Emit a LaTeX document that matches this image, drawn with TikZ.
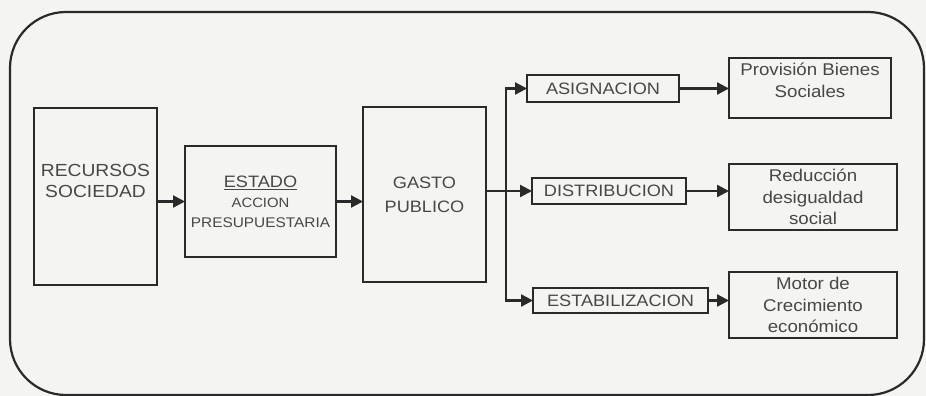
\documentclass[tikz,border=0pt]{standalone}
\usepackage{fontspec}
\setmainfont{Liberation Sans}[FakeStretch=1.1]
\usetikzlibrary{arrows.meta}
\definecolor{ink}{HTML}{2A2A2A}
\definecolor{txt}{HTML}{474747}
\definecolor{paper}{HTML}{F4F4F1}
\begin{document}
\begin{tikzpicture}[x=1pt,y=-1pt,
  box/.style={draw=ink,line width=2.3pt,inner sep=0pt,outer sep=0pt,anchor=north west,align=center,text=txt},
  bigtxt/.style={font=\fontsize{17.5}{21}\selectfont},
  captxt/.style={font=\fontsize{16.5}{20}\selectfont},
  smalltxt/.style={font=\fontsize{17}{21.5}\selectfont},
  conn/.style={draw=ink,line width=2.3pt,-{Triangle[length=12pt,width=12pt]}}]
\fill[paper] (0,0) rectangle (926,396);
\useasboundingbox (0,0) rectangle (926,396);
\draw[ink,line width=2.2pt,rounded corners=56pt] (10,12) rectangle (924,395);

\node[box,bigtxt,minimum width=123pt,minimum height=177pt] (rec) at (34,108)
  {RECURSOS\\SOCIEDAD\\[10pt]\mbox{}};
\node[box,font=\fontsize{14}{20}\selectfont,minimum width=151pt,minimum height=111pt] (est) at (185,146)
  {{\fontsize{16.5}{20}\selectfont\underline{ESTADO}}\\
   {\fontsize{13.5}{20}\selectfont ACCION}\\
   {\fontsize{14}{20}\selectfont PRESUPUESTARIA}};
\node[box,minimum width=123pt,minimum height=175pt,font=\fontsize{16.5}{24}\selectfont] (gas) at (363,107)
  {GASTO\\PUBLICO};

\node[box,captxt,minimum width=152pt,minimum height=27pt] (asig) at (527,75) {ASIGNACION};
\node[box,captxt,minimum width=154pt,minimum height=26pt] (dist) at (532,178) {DISTRIBUCION};
\node[box,captxt,minimum width=175pt,minimum height=25pt] (estab) at (533,288) {ESTABILIZACION};

\node[box,smalltxt,minimum width=162pt,minimum height=60pt] (prov) at (729,58)
  {Provisión Bienes\\Sociales\\[-6pt]\mbox{}};
\node[box,smalltxt,minimum width=168pt,minimum height=66pt] (red) at (729,164)
  {Reducción\\desigualdad\\social};
\node[box,smalltxt,minimum width=168pt,minimum height=66pt] (mot) at (729,272)
  {Motor de\\Crecimiento\\económico};

\path (dist.west) ++(-26,0) coordinate (trunk);

\draw[conn] (rec.east |- est.west) -- (est.west);
\draw[conn] (est.east) -- (est.east -| gas.west);
\draw[conn] (gas.east |- dist.west) -- (dist.west);
\draw[conn] (trunk) |- (asig.west);
\draw[conn] (trunk) |- (estab.west);
\draw[conn] (asig.east) -- (asig.east -| prov.west);
\draw[conn] (dist.east) -- (dist.east -| red.west);
\draw[conn] (estab.east) -- (estab.east -| mot.west);
\end{tikzpicture}
\end{document}
